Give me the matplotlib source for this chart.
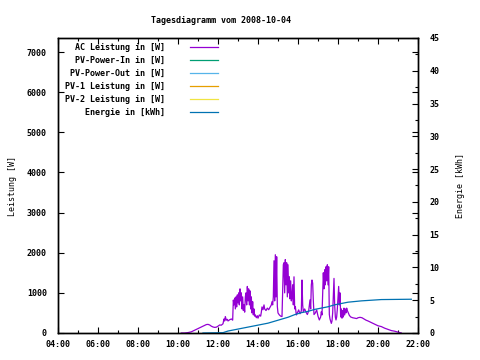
import numpy as np
import matplotlib
matplotlib.use("Agg")
import matplotlib.pyplot as plt
from matplotlib.ticker import MultipleLocator, FuncFormatter

# AC Leistung [W], Messwerte vom 2008-10-04
ac_time = ["10:10", "10:20", "10:30", "10:40", "10:50", "11:00", "11:10", "11:20", "11:25", "11:30",
           "11:35", "11:40", "11:45", "11:50", "11:55", "12:00", "12:05", "12:10", "12:15", "12:18",
           "12:20", "12:22", "12:25", "12:28", "12:30", "12:35", "12:40", "12:44", "12:46", "12:48",
           "12:50", "12:52", "12:54", "12:56", "12:58", "13:00", "13:02", "13:04", "13:06", "13:08",
           "13:10", "13:12", "13:14", "13:16", "13:18", "13:20", "13:22", "13:24", "13:26", "13:28",
           "13:30", "13:32", "13:34", "13:36", "13:38", "13:40", "13:42", "13:44", "13:46", "13:48",
           "13:50", "13:52", "13:55", "13:58", "14:00", "14:04", "14:08", "14:10", "14:12", "14:15",
           "14:18", "14:20", "14:24", "14:28", "14:32", "14:36", "14:40", "14:42", "14:44", "14:46",
           "14:48", "14:50", "14:52", "14:54", "14:56", "14:58", "15:00", "15:04", "15:08", "15:12",
           "15:16", "15:18", "15:20", "15:22", "15:24", "15:26", "15:28", "15:30", "15:32", "15:34",
           "15:36", "15:38", "15:40", "15:42", "15:44", "15:46", "15:48", "15:50", "15:52", "15:55",
           "15:58", "16:02", "16:06", "16:10", "16:12", "16:14", "16:16", "16:20", "16:24", "16:28",
           "16:32", "16:36", "16:38", "16:40", "16:42", "16:44", "16:46", "16:48", "16:52", "16:56",
           "17:00", "17:04", "17:08", "17:10", "17:12", "17:14", "17:16", "17:18", "17:20", "17:22",
           "17:24", "17:26", "17:28", "17:30", "17:32", "17:34", "17:36", "17:40", "17:42", "17:44",
           "17:46", "17:48", "17:50", "17:52", "17:54", "17:56", "17:58", "18:00", "18:02", "18:04",
           "18:06", "18:08", "18:10", "18:12", "18:14", "18:16", "18:18", "18:20", "18:22", "18:24",
           "18:26", "18:28", "18:30", "18:34", "18:38", "18:44", "18:50", "18:56", "19:00", "19:06",
           "19:12", "19:18", "19:24", "19:30", "19:40", "19:50", "20:00", "20:10", "20:20", "20:30",
           "20:40", "20:50", "21:00", "21:05", "21:10"]
ac_power = [0, 0, 10, 30, 70, 110, 150, 190, 210, 215,
            200, 170, 150, 140, 145, 170, 200, 195, 230, 350,
            300, 410, 320, 340, 300, 330, 350, 320, 820, 700,
            870, 600, 900, 650, 950, 750, 1000, 700, 1100, 800,
            1000, 600, 900, 560, 700, 520, 900, 1000, 700, 1160,
            800, 1100, 700, 1050, 600, 900, 500, 780, 450, 600,
            420, 450, 380, 430, 370, 450, 420, 520, 650, 580,
            700, 600, 560, 620, 580, 640, 700, 780, 700, 900,
            1800, 800, 1950, 900, 1900, 660, 500, 450, 420, 410,
            1700, 1750, 1000, 1830, 1200, 1750, 900, 1700, 1000, 1400,
            850, 1300, 800, 900, 1200, 700, 1400, 600, 660, 450,
            500, 575, 480, 550, 1320, 700, 530, 600, 520, 460,
            550, 825, 600, 1200, 1320, 1240, 800, 460, 500, 575,
            420, 325, 400, 530, 450, 1000, 1500, 1100, 1575, 1200,
            1650, 1300, 1700, 1200, 1650, 460, 350, 240, 300, 500,
            900, 1360, 700, 400, 325, 400, 600, 900, 1160, 700,
            1000, 400, 600, 370, 560, 400, 620, 450, 600, 500,
            620, 560, 520, 440, 400, 380, 370, 360, 380, 390,
            380, 350, 320, 300, 260, 220, 180, 160, 120, 90,
            60, 45, 20, 10, 0]

# Energie [kWh]
energy_time = ["11:15", "12:15", "12:30", "12:50", "13:10", "13:30", "13:50", "14:10",
               "14:30", "14:50", "15:10", "15:30", "15:50", "16:10", "16:30", "16:50", "17:10",
               "17:30", "17:50", "18:10", "18:30", "18:50", "19:10", "19:40", "20:10", "21:40"]
energy_kwh = [0.0, 0.05, 0.3, 0.5, 0.7, 0.9, 1.1, 1.3,
              1.5, 1.8, 2.1, 2.4, 2.8, 3.1, 3.3, 3.6, 3.8,
              4.0, 4.3, 4.5, 4.7, 4.8, 4.9, 5.0, 5.1, 5.15]

labels = ["AC Leistung in [W]", "PV-Power-In in [W]", "PV-Power-Out in [W]",
          "PV-1 Leistung in [W]", "PV-2 Leistung in [W]", "Energie in [kWh]"]
colors = ["#9400d3", "#009e73", "#56b4e9", "#e69f00", "#f0e442", "#0072b2"]


def to_hours(t):
    return np.array([int(s[:2]) + int(s[3:]) / 60.0 for s in t])


plt.rcParams['font.family'] = ['DejaVu Sans Mono']
plt.rcParams['font.size'] = 6
plt.rcParams['font.weight'] = 'bold'

fig = plt.figure(figsize=(4.8, 3.6), dpi=100)
ax = fig.add_axes([58 / 480, 27 / 360, 360 / 480, 295 / 360])
ax2 = ax.twinx()

ax.plot(to_hours(ac_time), ac_power, color=colors[0], lw=0.9)
ax2.plot(to_hours(energy_time), energy_kwh, color=colors[5], lw=0.9)

ax.set_xlim(4, 22)
ax.set_ylim(0, 7350)
ax2.set_ylim(0, 45)

ax.xaxis.set_major_locator(MultipleLocator(2))
ax.xaxis.set_minor_locator(MultipleLocator(1))
ax.xaxis.set_major_formatter(FuncFormatter(lambda v, p: "%02d:00" % int(round(v))))
ax.yaxis.set_major_locator(MultipleLocator(1000))
ax2.yaxis.set_major_locator(MultipleLocator(5))
ax2.yaxis.set_minor_locator(MultipleLocator(2.5))

ax.tick_params(axis="x", which="both", direction="in", top=True, pad=5)
ax.tick_params(axis="y", which="both", direction="in", right=True, pad=8)
ax.tick_params(which="major", length=4, width=0.8)
ax.tick_params(which="minor", length=2.5, width=0.8)
ax2.tick_params(which="both", direction="in", pad=8, width=0.8)
ax2.tick_params(which="major", length=4)
ax2.tick_params(which="minor", length=2.5)
for a in (ax, ax2):
    for sp in a.spines.values():
        sp.set_linewidth(1.0)

ax.set_ylabel("Leistung [W]", labelpad=7)
ax2.set_ylabel("Energie [kWh]", labelpad=12)
fig.text(0.46, 0.944, "Tagesdiagramm vom 2008-10-04", ha="center", va="center")

# Legende wie bei gnuplot: Text rechtsbuendig, Linie rechts daneben
for i, (lab, col) in enumerate(zip(labels, colors)):
    yy = 0.969 - i * 0.044
    ax.text(0.297, yy, lab, transform=ax.transAxes, ha="right", va="center")
    ax.plot([0.367, 0.444], [yy, yy], transform=ax.transAxes, color=col, lw=0.9)

fig.savefig("out.png", dpi=100)
